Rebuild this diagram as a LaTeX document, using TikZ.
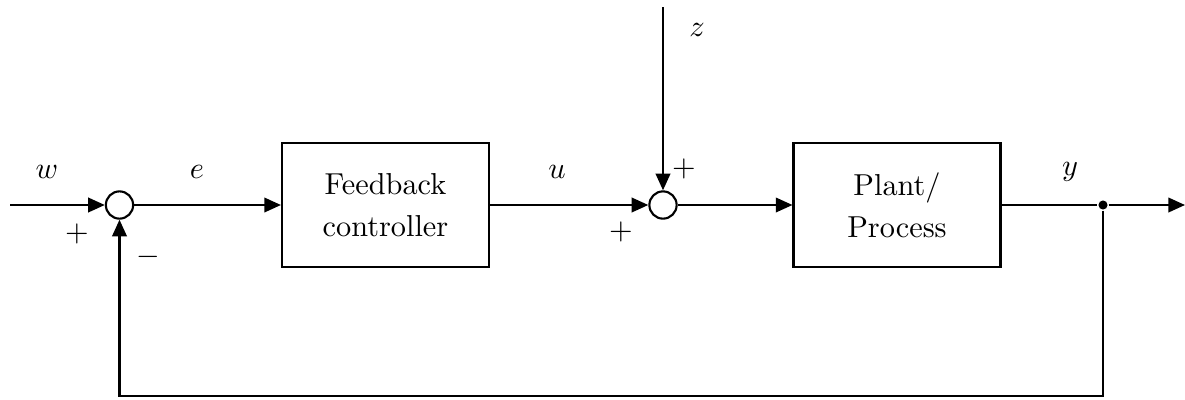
\documentclass[tikz,border=0pt]{standalone}
\usetikzlibrary{arrows.meta}
\begin{document}
\begin{tikzpicture}[x=0.33pt,y=-0.33pt,
  line width=0.7pt,
  arr/.style={-{Triangle[length=5.5pt,width=4.8pt]}},
  block/.style={draw,rectangle,minimum width=68.3pt,minimum height=40.9pt,align=center,inner sep=0pt},
  sumnode/.style={draw,circle,minimum size=9pt,inner sep=0pt,fill=white},
  lbl/.style={inner sep=0pt}]
\useasboundingbox (0,0) rectangle (1185,399);
\node[sumnode] (s1) at (119.5,205) {};
\node[sumnode] (s2) at (663,205) {};
\node[block] (ctrl) at (385.5,205) {Feedback\\[1.8pt]controller};
\node[block] (plant) at (897,205) {Plant/\\[1.8pt]Process};
\coordinate (in) at (10,205);
\coordinate (out) at (1185,205);
\coordinate (zin) at (663,7);
\coordinate (fbr) at (1103,396);
\node[circle,fill,inner sep=0pt,minimum size=3pt] (dot) at (1103,205) {};
\draw[arr] (in) -- (s1);
\draw[arr] (s1) -- (ctrl);
\draw[arr] (ctrl) -- (s2);
\draw[arr] (zin) -- (s2);
\draw[arr] (s2) -- (plant);
\draw (plant) -- (dot);
\draw[arr] (dot) -- (out);
\draw[arr] (dot) -- (fbr) -| (s1);
\node[lbl] (lw) at (47,172) {$w$};
\node[lbl] (le) at (197,172) {$e$};
\node[lbl] (lu) at (557,172) {$u$};
\node[lbl] (lz) at (697,30) {$z$};
\node[lbl] (ly) at (1070,172) {$y$};
\node[lbl] (p1) at (77,234) {$+$};
\node[lbl] (m1) at (148,257) {$-$};
\node[lbl] (p2) at (621,232) {$+$};
\node[lbl] (p3) at (684,169) {$+$};
\end{tikzpicture}
\end{document}
